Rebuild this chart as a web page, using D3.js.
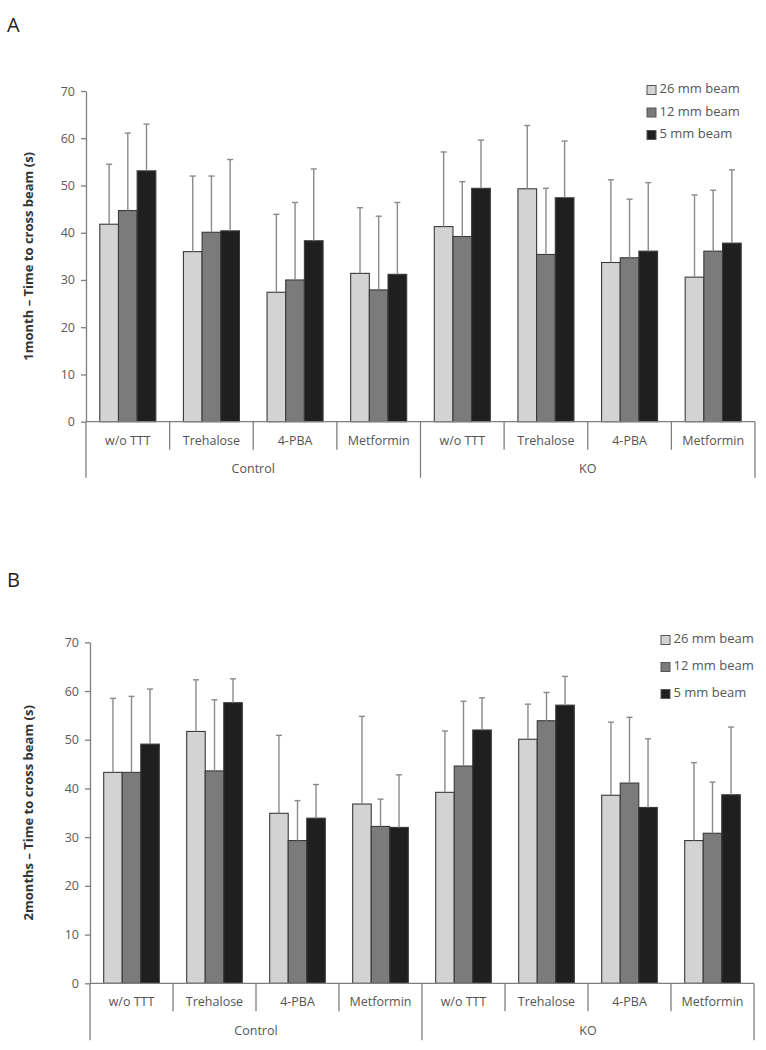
<!DOCTYPE html>
<html><head><meta charset="utf-8">
<script src="https://cdn.jsdelivr.net/npm/d3@7"></script>
<style>body{margin:0;background:#fff}svg{display:block}</style>
</head><body>
<script>
const categories = ["w/o TTT","Trehalose","4-PBA","Metformin","w/o TTT","Trehalose","4-PBA","Metformin"];
const groups = ["Control","KO"];
const seriesNames = ["26 mm beam","12 mm beam","5 mm beam"];
const seriesColors = ["#d3d3d3","#7b7b7b","#1f1f1f"];
const yTicks = [0,10,20,30,40,50,60,70];

// Panel A (1 month)
const a26 = [41.8,36.0,27.4,31.4,41.3,49.3,33.7,30.6];
const a12 = [44.7,40.1,30.0,27.9,39.2,35.4,34.7,36.1];
const a5  = [53.1,40.4,38.3,31.2,49.4,47.4,36.1,37.8];
const a26Top = [54.5,52.0,43.9,45.3,57.1,62.7,51.2,48.0];
const a12Top = [61.1,52.0,46.4,43.5,50.8,49.4,47.1,49.0];
const a5Top  = [63.0,55.5,53.5,46.4,59.6,59.4,50.6,53.3];

// Panel B (2 months)
const b26 = [43.3,51.7,34.9,36.8,39.2,50.1,38.6,29.3];
const b12 = [43.3,43.6,29.3,32.2,44.6,53.9,41.1,30.8];
const b5  = [49.1,57.6,33.9,32.0,52.0,57.1,36.1,38.7];
const b26Top = [58.5,62.3,50.9,54.8,51.8,57.3,53.6,45.3];
const b12Top = [58.9,58.2,37.5,37.8,57.9,59.7,54.6,41.3];
const b5Top  = [60.4,62.5,40.8,42.8,58.6,63.0,50.2,52.6];

const W = 766, H = 1050;
const svg = d3.select("body").append("svg").attr("width", W).attr("height", H);
const font = "'Open Sans', 'Liberation Sans', sans-serif";

function panel(opts) {
  const g = svg.append("g");
  const idx = d3.range(categories.length);
  const x = d3.scaleBand().domain(idx).range([opts.x0, opts.x1]).padding(0);
  const bw = x.bandwidth();
  const xs = d3.scaleBand().domain(d3.range(3)).range([bw*0.165, bw*0.835]).padding(0);
  const y = d3.scaleLinear().domain([0,70]).range([opts.yBottom, opts.yTop]);

  // panel letter
  g.append("text").attr("x", 7).attr("y", opts.letterY).attr("font-family", font)
    .attr("font-size", 20).attr("fill", "#222").text(opts.letter);

  // y axis
  const yAxis = d3.axisLeft(y).tickValues(yTicks).tickSize(5).tickSizeOuter(0).tickPadding(6);
  const ya = g.append("g").attr("transform", `translate(${opts.x0},0)`).call(yAxis);
  ya.select(".domain").attr("stroke", "#7f7f7f").attr("stroke-width", 1.3);
  ya.selectAll(".tick line").attr("stroke", "#7f7f7f").attr("stroke-width", 1.3);
  ya.selectAll(".tick text").attr("font-family", font).attr("font-size", 12.5).attr("fill", "#5a5a5a");

  // y title
  g.append("text").attr("transform", `translate(${opts.titleX},${(opts.yTop+opts.yBottom)/2}) rotate(-90)`)
    .attr("text-anchor", "middle").attr("font-family", font).attr("font-size", 13)
    .attr("font-weight", "bold").attr("fill", "#333").text(opts.title);

  const vals = opts.values, tops = opts.tops;
  // bars
  for (let s = 0; s < 3; s++) {
    g.append("g").selectAll("rect").data(idx).join("rect")
      .attr("x", i => x(i) + xs(s))
      .attr("y", i => y(vals[s][i]))
      .attr("width", xs.bandwidth())
      .attr("height", i => y(0) - y(vals[s][i]))
      .attr("fill", seriesColors[s]).attr("stroke", "#3a3a3a").attr("stroke-width", 1.1);
  }
  // error bars
  for (let s = 0; s < 3; s++) {
    const eg = g.append("g").attr("stroke", "#8a8a8a").attr("stroke-width", 1.4);
    eg.selectAll("line.v").data(idx).join("line").attr("class","v")
      .attr("x1", i => x(i) + xs(s) + xs.bandwidth()/2)
      .attr("x2", i => x(i) + xs(s) + xs.bandwidth()/2)
      .attr("y1", i => y(vals[s][i])).attr("y2", i => y(tops[s][i]));
    eg.selectAll("line.c").data(idx).join("line").attr("class","c")
      .attr("x1", i => x(i) + xs(s) + xs.bandwidth()/2 - 3)
      .attr("x2", i => x(i) + xs(s) + xs.bandwidth()/2 + 3)
      .attr("y1", i => y(tops[s][i])).attr("y2", i => y(tops[s][i]));
  }

  // x axis line
  const axc = "#7f7f7f";
  g.append("line").attr("x1", opts.x0).attr("x2", opts.x1).attr("y1", y(0)).attr("y2", y(0))
    .attr("stroke", axc).attr("stroke-width", 1.3);
  // category separators
  const sepIdx = d3.range(1, categories.length).filter(i => i !== 4);
  g.selectAll("line.sep").data(sepIdx).join("line").attr("class","sep")
    .attr("x1", i => x(i)).attr("x2", i => x(i))
    .attr("y1", y(0)).attr("y2", y(0) + opts.catSep)
    .attr("stroke", axc).attr("stroke-width", 1.3);
  // group separators
  const gsep = [opts.x0, x(4), opts.x1];
  g.selectAll("line.gsep").data(gsep).join("line").attr("class","gsep")
    .attr("x1", d => d).attr("x2", d => d)
    .attr("y1", y(0)).attr("y2", y(0) + opts.grpSep)
    .attr("stroke", axc).attr("stroke-width", 1.3);
  // category labels
  g.selectAll("text.cat").data(idx).join("text").attr("class","cat")
    .attr("x", i => x(i) + bw/2).attr("y", y(0) + opts.catLabel)
    .attr("text-anchor", "middle").attr("dominant-baseline", "middle")
    .attr("font-family", font).attr("font-size", 12.5).attr("fill", "#555")
    .text(d => categories[d]);
  // group labels
  g.selectAll("text.grp").data(groups).join("text").attr("class","grp")
    .attr("x", (d, j) => (gsep[j] + gsep[j+1]) / 2).attr("y", y(0) + opts.grpLabel)
    .attr("text-anchor", "middle").attr("dominant-baseline", "middle")
    .attr("font-family", font).attr("font-size", 12.5).attr("fill", "#555")
    .text(d => d);

  // legend
  const lg = g.append("g");
  seriesNames.forEach((n, s) => {
    const cy = opts.legY + s * opts.legStep;
    lg.append("rect").attr("x", opts.legX).attr("y", cy - 4.5).attr("width", 9).attr("height", 9)
      .attr("fill", seriesColors[s]).attr("stroke", "#555").attr("stroke-width", 1);
    lg.append("text").attr("x", opts.legX + 12.5).attr("y", cy).attr("dominant-baseline", "middle")
      .attr("font-family", font).attr("font-size", 13).attr("fill", "#555").text(n);
  });
}

panel({
  letter: "A", letterY: 32,
  x0: 86, x1: 755, yTop: 91, yBottom: 421.7,
  title: "1month \u2013 Time to cross beam (s)", titleX: 33,
  values: [a26, a12, a5], tops: [a26Top, a12Top, a5Top],
  catSep: 28, grpSep: 56, catLabel: 20, grpLabel: 48,
  legX: 647, legY: 90, legStep: 22.5
});

panel({
  letter: "B", letterY: 587,
  x0: 90, x1: 754, yTop: 642.3, yBottom: 983.3,
  title: "2months \u2013 Time to cross beam (s)", titleX: 33,
  values: [b26, b12, b5], tops: [b26Top, b12Top, b5Top],
  catSep: 28, grpSep: 57, catLabel: 19.5, grpLabel: 48,
  legX: 661, legY: 640, legStep: 27
});
</script>
</body></html>
